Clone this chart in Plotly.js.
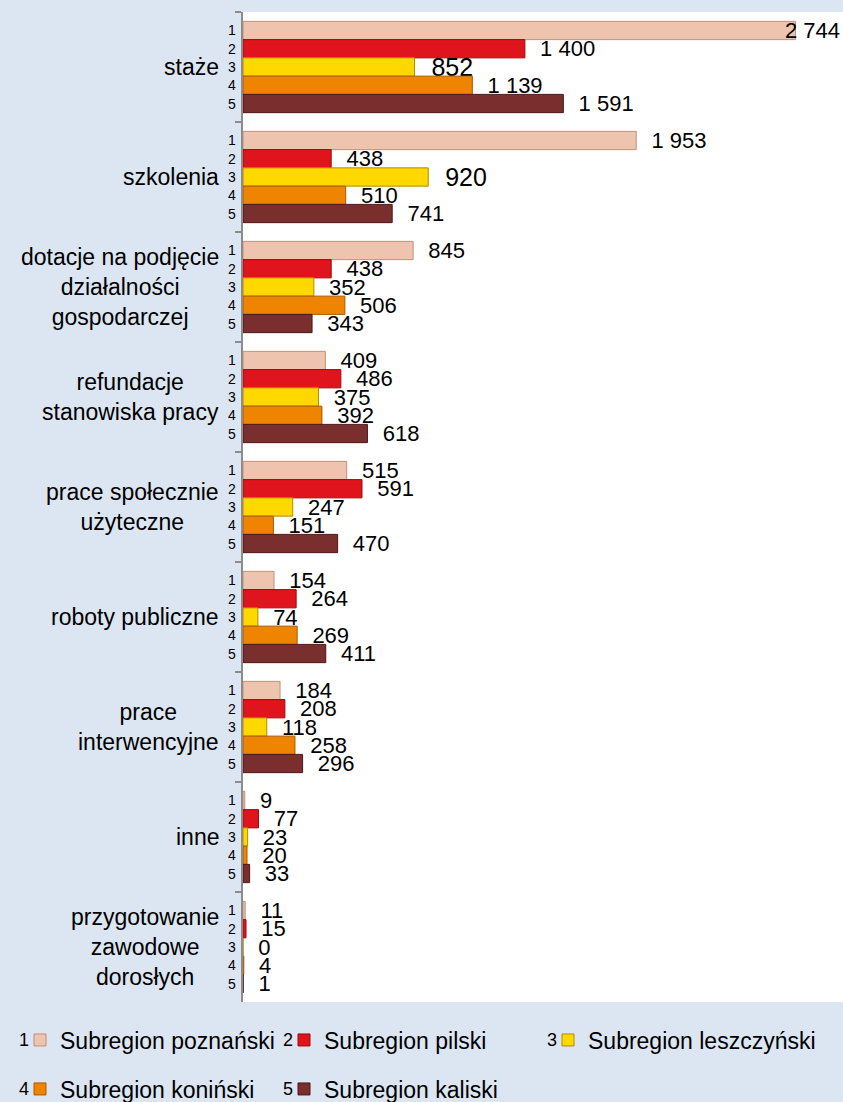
<!DOCTYPE html>
<html>
<head>
<meta charset="utf-8">
<script src="https://cdn.plot.ly/plotly-3.0.1.min.js"></script>
<style>html,body{margin:0;padding:0;background:#dce6f2;}#chart{width:843px;height:1102px;}</style>
</head>
<body>
<div id="chart"></div>
<script>
// ---- data ----
var categories = [
  "staże",
  "szkolenia",
  "dotacje na podjęcie<br>działalności<br>gospodarczej",
  "refundacje<br>stanowiska pracy",
  "prace społecznie<br>użyteczne",
  "roboty publiczne",
  "prace<br>interwencyjne",
  "inne",
  "przygotowanie<br>zawodowe<br>dorosłych"
];
var seriesNames = ["Subregion poznański", "Subregion pilski", "Subregion leszczyński", "Subregion koniński", "Subregion kaliski"];
var seriesNumbers = ["1", "2", "3", "4", "5"];
var poznanski   = [2744, 1953, 845, 409, 515, 154, 184, 9, 11];
var pilski      = [1400, 438, 438, 486, 591, 264, 208, 77, 15];
var leszczynski = [852, 920, 352, 375, 247, 74, 118, 23, 0];
var koninski    = [1139, 510, 506, 392, 151, 269, 258, 20, 4];
var kaliski     = [1591, 741, 343, 618, 470, 411, 296, 33, 1];

// ---- styling ----
var seriesValues = [poznanski, pilski, leszczynski, koninski, kaliski];
var fills = ["#eec4ae", "#e0141c", "#ffd800", "#ee8400", "#7a2e2e"];
var lines = ["#c0907a", "#9c0a0a", "#b08c00", "#a85a00", "#4a1818"];
var FONT = "Liberation Sans, Arial, sans-serif";
var bargap = 0.17;
var M = {l: 243, r: 0, t: 12, b: 100, autoexpand: false};
var W = 843, H = 1102;
var plotH = H - M.t - M.b, plotW = W - M.l - M.r;
var XMAX = 2980;
var bandPx = plotH / categories.length;
var barPx = bandPx * (1 - bargap) / seriesValues.length;
var legendNames = ["legend", "legend2", "legend3", "legend4", "legend5"];

function fmt(v) { return String(v).replace(/\B(?=(\d{3})+(?!\d))/g, " "); }

var annotations = [];

var traces = seriesValues.map(function (vals, k) {
  var sizes = vals.map(function () { return 22; });
  if (k === 2) { sizes[0] = 25; sizes[1] = 25; }
  var templates = vals.map(function (v, i) {
    if (v / XMAX > 0.9) {
      // label of a bar reaching the right edge: drawn overlapping the bar end
      annotations.push({
        xref: "x", yref: "y", x: v, y: i, xanchor: "left", yanchor: "middle",
        xshift: -12, yshift: (2 - k) * barPx, showarrow: false, text: fmt(v),
        font: {family: FONT, size: 22, color: "#000"}
      });
      return "";
    }
    return "\u00a0\u00a0%{x:,}";
  });
  return {
    type: "bar",
    orientation: "h",
    name: seriesNames[k],
    x: vals,
    y: categories,
    marker: {color: fills[k], line: {color: lines[k], width: 1}},
    texttemplate: templates,
    textposition: "outside",
    constraintext: "none",
    cliponaxis: false,
    textfont: {family: FONT, size: sizes, color: "#000"},
    hoverinfo: "skip",
    legend: legendNames[k]
  };
});

categories.forEach(function (c, i) {
  annotations.push({
    xref: "paper", yref: "y", x: 0, y: i, xanchor: "right", yanchor: "middle",
    xshift: -22, text: c, align: "center", showarrow: false,
    font: {family: FONT, size: 23, color: "#000"}
  });
  seriesNumbers.forEach(function (n, k) {
    annotations.push({
      xref: "paper", yref: "y", x: 0, y: i, xanchor: "right", yanchor: "middle",
      xshift: -5, yshift: (2 - k) * barPx, text: n, showarrow: false,
      font: {family: FONT, size: 14, color: "#000"}
    });
  });
});

// legend entries: start x of each entry and row centre y (pixels)
var legendX = [20, 284, 548, 20, 284];
var legendY = [1040, 1040, 1040, 1089, 1089];
var layout = {
  width: W, height: H,
  margin: M,
  paper_bgcolor: "#dce6f2",
  plot_bgcolor: "#ffffff",
  barmode: "group",
  bargap: bargap,
  bargroupgap: 0,
  separators: ", ",
  showlegend: true,
  xaxis: {range: [0, XMAX], showgrid: false, zeroline: false, showline: false,
          showticklabels: false, ticks: "", fixedrange: true},
  yaxis: {type: "category", autorange: "reversed", showticklabels: false,
          showline: true, linecolor: "#8c8c8c", linewidth: 2,
          ticks: "outside", tickson: "boundaries", ticklen: 6,
          tickcolor: "#8c8c8c", tickwidth: 1.5, showgrid: false, zeroline: false,
          fixedrange: true},
  annotations: annotations,
  font: {family: FONT}
};
seriesNumbers.forEach(function (n, k) {
  layout[legendNames[k]] = {
    orientation: "h", xref: "container", yref: "container",
    x: legendX[k] / W, y: 1 - legendY[k] / H, xanchor: "left", yanchor: "middle",
    font: {family: FONT, size: 23, color: "#000"},
    bgcolor: "rgba(0,0,0,0)"
  };
  // number shown before the legend swatch
  annotations.push({
    xref: "paper", yref: "paper",
    x: (legendX[k] + 11 - M.l) / plotW, y: (H - M.b - legendY[k]) / plotH,
    xanchor: "right", yanchor: "middle", text: n, showarrow: false,
    font: {family: FONT, size: 18, color: "#000"}
  });
});

Plotly.newPlot("chart", traces, layout, {staticPlot: true, displayModeBar: false});
</script>
</body>
</html>
